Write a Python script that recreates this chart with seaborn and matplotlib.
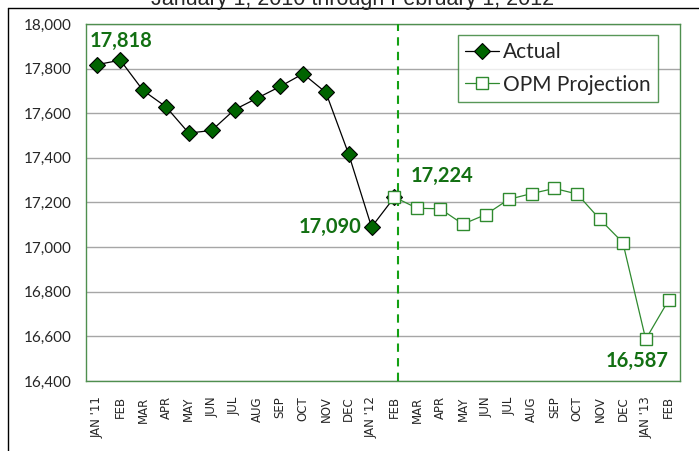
import matplotlib
matplotlib.use("Agg")
import matplotlib.pyplot as plt
from matplotlib.lines import Line2D
import seaborn as sns
import pandas as pd
import numpy as np

# ---- data ----
month_labels = ["JAN '11", "FEB", "MAR", "APR", "MAY", "JUN", "JUL", "AUG", "SEP",
                "OCT", "NOV", "DEC", "JAN '12", "FEB", "MAR", "APR", "MAY", "JUN",
                "JUL", "AUG", "SEP", "OCT", "NOV", "DEC", "JAN '13", "FEB"]
actual = [17818, 17838, 17702, 17629, 17511, 17523, 17616, 17668, 17720,
          17777, 17693, 17416, 17090, 17224]
projection = [17224, 17174, 17172, 17103, 17146, 17214, 17240, 17263,
              17238, 17124, 17020, 16587, 16762]
title_text = "January 1, 2010 through February 1, 2012"
y_ticks = [16400, 16600, 16800, 17000, 17200, 17400, 17600, 17800, 18000]

sns.set_style("white")
plt.rcParams['font.family'] = ['Lato', 'DejaVu Sans']

df_act = pd.DataFrame({"x": np.arange(len(actual)), "y": actual})
proj_start = len(actual) - 1
df_proj = pd.DataFrame({"x": np.arange(proj_start, proj_start + len(projection)),
                        "y": projection})

fig = plt.figure(figsize=(6.99, 4.51), dpi=100)
ax = fig.add_axes([86/699, 1 - 381/451, (680-86)/699, (381-24)/451])

DKGREEN = "#006400"
PGREEN = "#2f8a2f"
LBLGREEN = "#137013"

sns.lineplot(data=df_act, x="x", y="y", ax=ax, color="black", linewidth=0.9,
             marker="D", markersize=8.5, markerfacecolor=DKGREEN,
             markeredgecolor="black", markeredgewidth=0.8, label="Actual", zorder=4)
sns.lineplot(data=df_proj, x="x", y="y", ax=ax, color=PGREEN, linewidth=0.9,
             marker="s", markersize=8.2, markerfacecolor="white",
             markeredgecolor=PGREEN, markeredgewidth=1.0, label="OPM Projection", zorder=5)

ax.axvline(13.15, color="#13a013", linestyle=(0, (4, 3)), linewidth=1.5, zorder=3)

ax.set_xlim(-0.5, len(month_labels) - 0.5)
ax.set_ylim(16400, 18000)
ax.set_yticks(y_ticks)
ax.set_yticklabels([f"{v:,}" for v in y_ticks], fontsize=11)
ax.set_xticks(np.arange(len(month_labels)))
ax.set_xticklabels(month_labels, rotation=90, fontsize=8.5, family="DejaVu Sans")
ax.set_xticks(np.arange(len(month_labels) + 1) - 0.5, minor=True)
ax.tick_params(axis="x", which="major", length=0, pad=11)
ax.tick_params(axis="x", which="minor", length=5, color="#8a8a8a", width=0.8, direction="out")
ax.tick_params(axis="y", which="major", length=6, color="#8a8a8a", width=0.8, direction="out", pad=4)
ax.set_xlabel("")
ax.set_ylabel("")
ax.grid(axis="y", color="#a6a6a6", linewidth=1.0)
ax.set_axisbelow(True)
for s in ax.spines.values():
    s.set_color("#4f8f4f")
    s.set_linewidth(1.0)
    s.set_visible(True)

lbl_kw = dict(color=LBLGREEN, fontsize=14.5, fontweight="bold")
ax.text(-0.32, 17925, f"{actual[0]:,}", ha="left", va="center", **lbl_kw)
ax.text(11.56, 17090, f"{actual[12]:,}", ha="right", va="center", **lbl_kw)
ax.text(13.71, 17320, f"{projection[0]:,}", ha="left", va="center", **lbl_kw)
ax.text(24.98, 16490, f"{projection[11]:,}", ha="right", va="center", **lbl_kw)

leg = ax.legend(loc="upper left", bbox_to_anchor=((458-86)/594, 1 - (35-24)/357),
                frameon=True, fancybox=False, fontsize=15, handlelength=1.6,
                handletextpad=0.2, borderpad=0.35, labelspacing=0.6, borderaxespad=0)
leg.get_frame().set_edgecolor("#2e7d2e")
leg.get_frame().set_linewidth(1.0)

fig.text(0.504, 1 - 5/451, title_text, ha="center", va="baseline", fontsize=15.5,
         family="Liberation Sans")

fig.add_artist(Line2D([8/699, 1.0], [1 - 8/451, 1 - 8/451], transform=fig.transFigure,
                      color="black", linewidth=1.0))
fig.add_artist(Line2D([8/699, 8/699], [0, 1 - 8/451], transform=fig.transFigure,
                      color="black", linewidth=1.0))

fig.savefig("out.png", dpi=100)
